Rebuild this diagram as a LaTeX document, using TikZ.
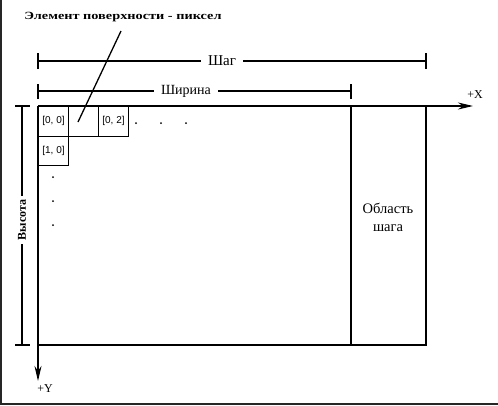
\documentclass[tikz,border=0pt]{standalone}
\usepackage{fontspec}
\setmainfont{Liberation Serif}
\newfontfamily\cellfont{Liberation Sans}
\usetikzlibrary{arrows.meta}
\begin{document}
\begin{tikzpicture}[x=1pt,y=-1pt,
  thick line/.style={line width=1.8pt},
  thin line/.style={line width=1.1pt},
  cellbox/.style={draw,line width=1pt,minimum width=30pt,minimum height=29.5pt,inner sep=0pt,anchor=north west,font=\cellfont\fontsize{10}{11}\selectfont},
  dotmark/.style={circle,fill=black,inner sep=0pt,minimum size=2pt},
  lbl/.style={fill=white,inner sep=3pt,font=\fontsize{15}{17}\selectfont},
  axislbl/.style={inner sep=0pt,font=\fontsize{12}{14}\selectfont},
  axis/.style={line width=1.8pt,-{Stealth[length=15pt,width=7pt]}}]
\useasboundingbox (0,0) rectangle (498,405);
\fill[white] (0,0) rectangle (498,405);
% frame
\draw[line width=2.5pt,black!85] (1.2,0) -- (1.2,403.8) -- (498,403.8);
% coordinates
\coordinate (O) at (38,106);
\coordinate (Xend) at (473,106);
\coordinate (Yend) at (38,381);
\coordinate (BL) at (38,345);
\coordinate (BM) at (351,345);
\coordinate (BR) at (426,345);
\coordinate (TM) at (351,106);
\coordinate (TR) at (426,106);
% axes
\draw[axis] (O) -- (Xend);
\draw[axis] (O) -- (Yend);
\node[axislbl] (xl) at (475,95) {+X};
\node[axislbl] (yl) at (45,389) {+Y};
% rectangle
\draw[thick line] (BL) -- (BR) -- (TR);
\draw[thick line] (TM) -- (BM);
% Step bracket
\coordinate (S1) at (38,61);
\coordinate (S2) at (426,61);
\draw[thick line] (S1) -- (S2);
\draw[thick line] ([yshift=-8pt]S1) -- ([yshift=8pt]S1);
\draw[thick line] ([yshift=-8pt]S2) -- ([yshift=8pt]S2);
\node[lbl,inner xsep=7pt] (step) at (222,61) {Шаг};
% Width bracket
\coordinate (W1) at (38,91);
\coordinate (W2) at (351,91);
\draw[thin line] (W1) -- (W2);
\draw[thick line] ([yshift=-8pt]W1) -- ([yshift=7pt]W1);
\draw[thick line] ([yshift=-8pt]W2) -- ([yshift=7pt]W2);
\node[lbl,inner xsep=7pt,font=\fontsize{14}{16}\selectfont] (width) at (186,91) {Ширина};
% Height bracket
\coordinate (H1) at (22,106);
\coordinate (H2) at (22,345);
\draw[thick line] (H1) -- (H2);
\draw[thick line] ([xshift=-7pt]H1) -- ([xshift=8pt]H1);
\draw[thick line] ([xshift=-7pt]H2) -- ([xshift=8pt]H2);
\node[lbl,rotate=90,inner xsep=4pt,font=\bfseries\fontsize{12}{14}\selectfont] (height) at (22,220) {Высота};
% cells
\node[cellbox] (c00) at (38,106) {[0, 0]};
\node[cellbox] (c01) at (68,106) {};
\node[cellbox] (c02) at (98,106) {[0, 2]};
\node[cellbox] (c10) at (38,135.5) {[1, 0]};
% dots
\node[dotmark] (r1) at (136,123) {};
\node[dotmark] (r2) at (161,123) {};
\node[dotmark] (r3) at (186,123) {};
\node[dotmark] (d1) at (53,177) {};
\node[dotmark] (d2) at (53,201) {};
\node[dotmark] (d3) at (53,225) {};
% title and leader
\node[inner sep=0pt,font=\bfseries\fontsize{11}{13}\selectfont] (title) at (123,17) {\scalebox{1.3}[1]{Элемент поверхности - пиксел}};
\coordinate (Lstart) at (121,31);
\coordinate (Lend) at (78,122);
\draw[line width=1.3pt] (Lstart) -- (Lend);
% step area
\node[align=center,inner sep=0pt,font=\fontsize{14.5}{18}\selectfont] (area) at (388,217) {Область\\шага};
\end{tikzpicture}
\end{document}
